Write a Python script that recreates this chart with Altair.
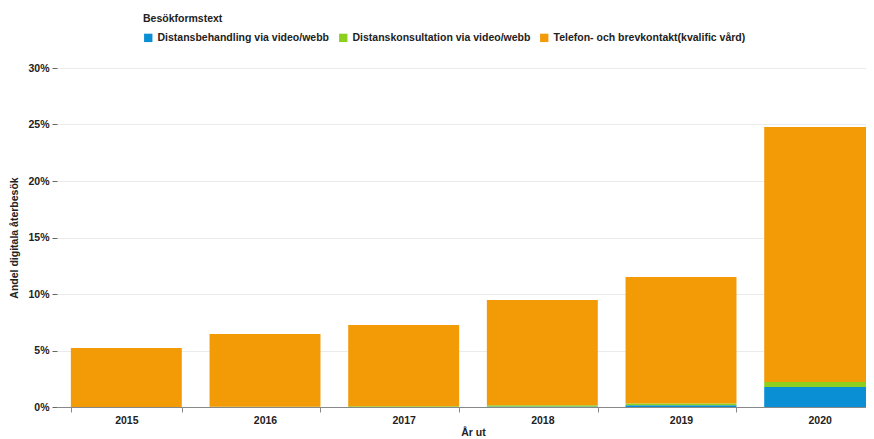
import altair as alt
import pandas as pd

years = ["2015", "2016", "2017", "2018", "2019", "2020"]
series = [
    "Distansbehandling via video/webb",
    "Distanskonsultation via video/webb",
    "Telefon- och brevkontakt(kvalific vård)",
]
blue_vals = [0.00, 0.00, 0.01, 0.05, 0.16, 1.77]
green_vals = [0.01, 0.02, 0.05, 0.10, 0.16, 0.44]
orange_vals = [5.21, 6.44, 7.20, 9.32, 11.18, 22.57]
colors = ["#0a8fd4", "#8ccf1e", "#f29b07"]

rows = []
for i, y in enumerate(years):
    for k, (s, vals) in enumerate(zip(series, [blue_vals, green_vals, orange_vals])):
        rows.append({"År ut": y, "Besökformstext": s, "value": vals[i], "ord": k})
df = pd.DataFrame(rows)

font = "Liberation Sans"

chart = (
    alt.Chart(df)
    .mark_bar()
    .encode(
        x=alt.X(
            "År ut:N",
            sort=years,
            scale=alt.Scale(paddingInner=0.2, paddingOuter=0.1, range=[0, 832]),
            axis=alt.Axis(
                labelAngle=0,
                tickBand="extent",
                labelFontWeight="bold",
                labelFont=font,
                labelFontSize=10.5,
                labelColor="#222222",
                titleFont=font,
                titleFontSize=10.5,
                titleFontWeight="bold",
                titleColor="#222222",
                domainColor="#888888",
                tickColor="#888888",
                tickSize=5,
                labelPadding=3,
                titlePadding=2,
                grid=False,
            ),
        ),
        y=alt.Y(
            "value:Q",
            stack="zero",
            title="Andel digitala återbesök",
            scale=alt.Scale(domain=[0, 30], nice=False),
            axis=alt.Axis(
                values=[0, 5, 10, 15, 20, 25, 30],
                labelExpr="datum.value + '%'",
                labelFontWeight="bold",
                labelFont=font,
                labelFontSize=10.5,
                labelColor="#222222",
                titleFont=font,
                titleFontSize=10.5,
                titleFontWeight="bold",
                titleColor="#222222",
                domain=False,
                tickColor="#666666",
                tickSize=5,
                labelPadding=3,
                titlePadding=8,
                gridColor="#ebebeb",
            ),
        ),
        color=alt.Color(
            "Besökformstext:N",
            sort=series,
            scale=alt.Scale(domain=series, range=colors),
            legend=alt.Legend(
                orient="none",
                legendX=86,
                legendY=-54,
                direction="horizontal",
                symbolType="square",
                symbolSize=70,
                symbolStrokeWidth=0,
                labelFont=font,
                labelFontSize=10.5,
                labelFontWeight="bold",
                labelColor="#222222",
                titleFont=font,
                titleFontSize=10.5,
                titleFontWeight="bold",
                titleColor="#222222",
                titlePadding=8,
                columnPadding=8,
                labelLimit=300,
            ),
        ),
        order=alt.Order("ord:Q", sort="ascending"),
    )
    .properties(
        width=809,
        height=339,
        autosize=alt.AutoSizeParams(type="none"),
        padding={"left": 49, "top": 60, "right": 0, "bottom": 32},
    )
    .configure_view(stroke=None)
)

chart.save("out.html", embed_options={"renderer": "svg", "actions": False})
